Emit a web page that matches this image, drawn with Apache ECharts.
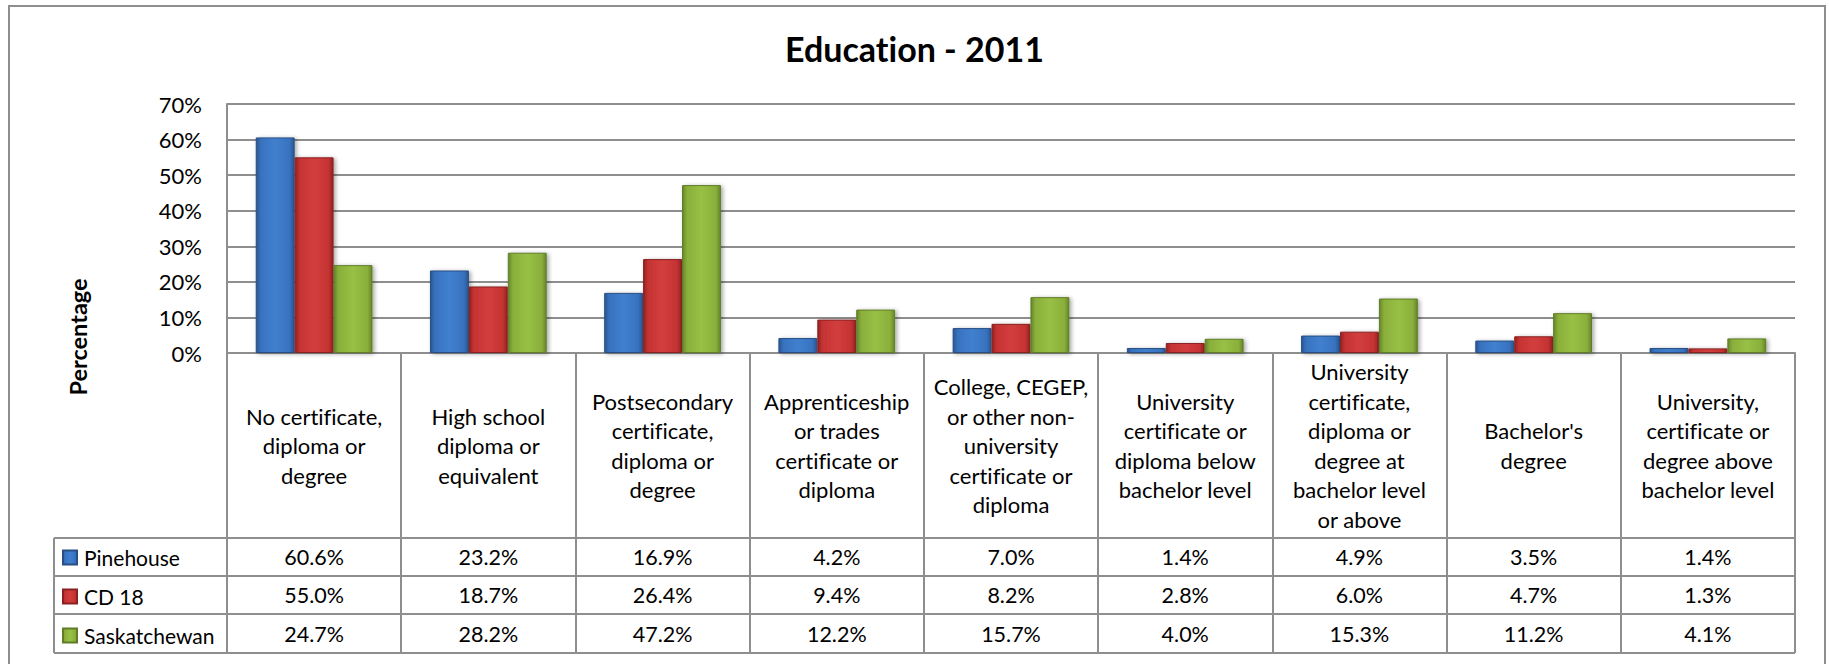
<!DOCTYPE html>
<html>
<head>
<meta charset="utf-8">
<script src="https://cdn.jsdelivr.net/npm/echarts@6/dist/echarts.min.js"></script>
<style>
  html, body { margin: 0; padding: 0; background: #fff; }
  #chart { width: 1829px; height: 664px; }
  #chart text { font-variant-ligatures: none; font-feature-settings: "liga" 0, "clig" 0, "dlig" 0; }
</style>
</head>
<body>
<div id="chart"></div>
<script>
// ---- data ----
const categories = [
  "No certificate, diploma or degree",
  "High school diploma or equivalent",
  "Postsecondary certificate, diploma or degree",
  "Apprenticeship or trades certificate or diploma",
  "College, CEGEP, or other non-university certificate or diploma",
  "University certificate or diploma below bachelor level",
  "University certificate, diploma or degree at bachelor level or above",
  "Bachelor's degree",
  "University, certificate or degree above bachelor level"
];
const categoryLabels = [
  "No certificate,\ndiploma or\ndegree",
  "High school\ndiploma or\nequivalent",
  "Postsecondary\ncertificate,\ndiploma or\ndegree",
  "Apprenticeship\nor trades\ncertificate or\ndiploma",
  "College, CEGEP,\nor other non-\nuniversity\ncertificate or\ndiploma",
  "University\ncertificate or\ndiploma below\nbachelor level",
  "University\ncertificate,\ndiploma or\ndegree at\nbachelor level\nor above",
  "Bachelor's\ndegree",
  "University,\ncertificate or\ndegree above\nbachelor level"
];
const seriesNames = ["Pinehouse", "CD 18", "Saskatchewan"];
const pinehouse    = [60.6, 23.2, 16.9, 4.2, 7.0, 1.4, 4.9, 3.5, 1.4];
const cd18         = [55.0, 18.7, 26.4, 9.4, 8.2, 2.8, 6.0, 4.7, 1.3];
const saskatchewan = [24.7, 28.2, 47.2, 12.2, 15.7, 4.0, 15.3, 11.2, 4.1];
const yTicks = [0, 10, 20, 30, 40, 50, 60, 70];

// ---- layout ----
const W = 1829, H = 664;
const plotL = 227, plotR = 1795, plotT = 104, plotB = 353;
const rowLines = [538, 576, 614, 653];
const legendColL = 54;
const FONT = "Lato";
const GRID = "#8e8e8e";

function grad(dark, mid, light) {
  return new echarts.graphic.LinearGradient(0, 0, 1, 0, [
    { offset: 0, color: dark },
    { offset: 0.12, color: mid },
    { offset: 0.5, color: light },
    { offset: 0.88, color: mid },
    { offset: 1, color: dark }
  ]);
}
const styles = [
  { color: grad("#2a5690", "#3872bf", "#4080cf"), borderColor: "#284f84" },
  { color: grad("#942222", "#c53333", "#d23e3e"), borderColor: "#8a2020" },
  { color: grad("#66862a", "#8aaf3b", "#98c045"), borderColor: "#5f7d27" }
];
const seriesData = [pinehouse, cd18, saskatchewan];

const chart = echarts.init(document.getElementById("chart"), null, { renderer: "svg" });

const rowCenters = [];
for (let i = 0; i < 3; i++) rowCenters.push((rowLines[i] + rowLines[i + 1]) / 2);

const xAxes = [{
  type: "category",
  gridIndex: 0,
  position: "bottom",
  data: categoryLabels,
  boundaryGap: true,
  axisLine: { show: true, lineStyle: { color: GRID, width: 2 } },
  axisTick: { show: true, interval: 0, length: rowLines[3] - plotB, lineStyle: { color: GRID, width: 2 } },
  axisLabel: {
    interval: 0, margin: (plotB + rowLines[0]) / 2 - plotB, verticalAlign: "middle",
    fontFamily: FONT, fontSize: 22, lineHeight: 29.5, color: "#000", align: "center"
  }
}];
seriesData.forEach((arr, i) => {
  xAxes.push({
    type: "category",
    gridIndex: 0,
    position: "bottom",
    offset: rowCenters[i] - plotB,
    data: arr.map(v => v.toFixed(1) + "%"),
    axisLine: { show: false },
    axisTick: { show: false },
    splitLine: { show: false },
    axisLabel: {
      interval: 0, margin: 0, verticalAlign: "middle",
      fontFamily: FONT, fontSize: 21.5, color: "#000"
    }
  });
});

const graphics = [
  { type: "rect", shape: { x: 9, y: 6, width: 1816, height: 670 }, style: { fill: "none", stroke: GRID, lineWidth: 2 }, silent: true, z: -1 },
  { type: "line", shape: { x1: legendColL, y1: rowLines[0], x2: legendColL, y2: rowLines[3] }, style: { stroke: GRID, lineWidth: 2 } },
  {
    type: "text", x: 78, y: 337, rotation: Math.PI / 2,
    style: { text: "Percentage", fontFamily: FONT, fontWeight: "bold", fontSize: 23.5, fill: "#000", align: "center", verticalAlign: "middle" }
  }
];
rowLines.forEach(y => {
  graphics.push({ type: "line", shape: { x1: legendColL, y1: y, x2: plotR, y2: y }, style: { stroke: GRID, lineWidth: 2 } });
});

const option = {
  backgroundColor: "#fff",
  animation: false,
  title: {
    text: "Education - 2011",
    left: "center",
    top: 31,
    padding: 0,
    textStyle: { fontFamily: FONT, fontWeight: "bold", fontSize: 34, color: "#000" }
  },
  legend: {
    orient: "vertical",
    left: 62,
    top: rowCenters[0] - 10,
    itemWidth: 14,
    itemHeight: 14,
    itemGap: 18,
    padding: 0,
    icon: "rect",
    data: seriesNames,
    textStyle: { fontFamily: FONT, fontSize: 21, lineHeight: 20, color: "#000", padding: [0, 0, 0, 2] },
    selectedMode: false
  },
  grid: { left: plotL, right: W - plotR, top: plotT, bottom: H - plotB, containLabel: false },
  xAxis: xAxes,
  yAxis: {
    type: "value",
    min: yTicks[0],
    max: yTicks[yTicks.length - 1],
    interval: 10,
    axisLine: { show: true, lineStyle: { color: GRID, width: 2 } },
    axisTick: { show: false },
    splitLine: { show: true, lineStyle: { color: GRID, width: 2 } },
    axisLabel: { margin: 25, fontFamily: FONT, fontSize: 22, color: "#000", formatter: v => v + "%" }
  },
  series: seriesData.map((arr, i) => ({
    name: seriesNames[i],
    type: "bar",
    xAxisIndex: 0,
    data: arr,
    barGap: "0%",
    barCategoryGap: "33%",
    itemStyle: {
      color: styles[i].color,
      borderColor: styles[i].borderColor,
      borderWidth: 1,
      shadowColor: "rgba(0,0,0,0.35)",
      shadowBlur: 4,
      shadowOffsetX: 2,
      shadowOffsetY: 1
    }
  })),
  graphic: graphics
};
chart.setOption(option);
</script>
</body>
</html>
